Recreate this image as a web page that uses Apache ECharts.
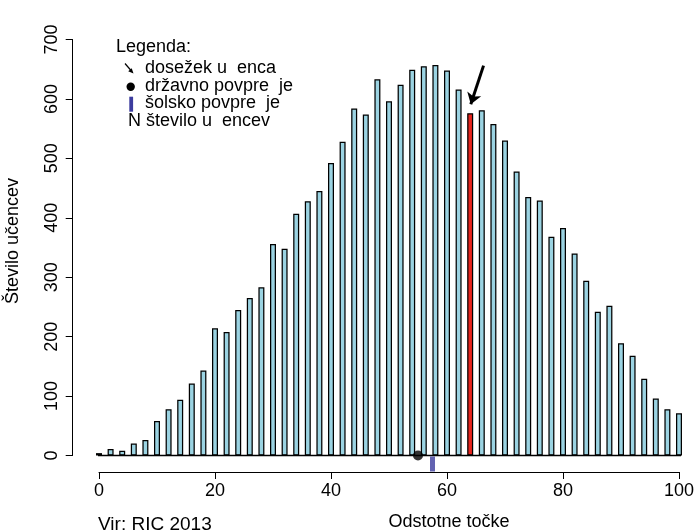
<!DOCTYPE html>
<html>
<head>
<meta charset="utf-8">
<script src="https://cdn.jsdelivr.net/npm/echarts@6/dist/echarts.min.js"></script>
<style>html,body{margin:0;padding:0;background:#fff}#c{width:700px;height:532px}</style>
</head>
<body>
<div id="c"></div>
<script>
// Data
const scores = [0,2,4,6,8,10,12,14,16,18,20,22,24,26,28,30,32,34,36,38,40,42,44,46,48,50,52,54,56,58,60,62,64,66,68,70,72,74,76,78,80,82,84,86,88,90,92,94,96,98,100];
const counts = [4,11,8,20,26,58,78,94,121,143,214,208,245,265,283,356,348,407,428,445,492,528,584,574,633,596,624,649,655,657,648,616,576,581,558,530,478,435,429,368,383,340,294,242,252,189,168,129,96,78,71];
const pupilScore = 64;
const nationalMean = 55;
const schoolMean = 57.5;
const arrowFrom = [66.3, 656];
const arrowTo = [64.1, 591];
const baselineRange = [-0.55, 100.55];
const xTicks = [0,20,40,60,80,100];
const yTicks = [0,100,200,300,400,500,600,700];

const FONT = "'Liberation Sans', Arial, sans-serif";
const FS = 18;
const chart = echarts.init(document.getElementById('c'), null, {renderer: 'canvas'});

const barData = scores.map((s, i) => ({
  value: [s, counts[i]],
  itemStyle: { color: s === pupilScore ? '#e8251e' : '#9bd3e2' }
}));

function txt(text, x, y, opts) {
  return Object.assign({ type: 'text', x: x, y: y,
    style: { text: text, fontSize: FS, fontFamily: FONT, fill: '#000', align: 'left', verticalAlign: 'middle' } }, opts || {});
}

chart.setOption({
  animation: false,
  backgroundColor: '#ffffff',
  grid: { left: 99, width: 580, top: 39.5, height: 416 },
  xAxis: {
    type: 'value', min: xTicks[0], max: xTicks[xTicks.length - 1], interval: 20,
    offset: 16.5,
    axisLine: { show: true, onZero: false, lineStyle: { color: '#000', width: 1 } },
    axisTick: { show: true, length: 7, lineStyle: { color: '#000', width: 1 } },
    axisLabel: { color: '#000', fontSize: FS, fontFamily: FONT, margin: 10 },
    splitLine: { show: false }
  },
  yAxis: {
    type: 'value', min: yTicks[0], max: yTicks[yTicks.length - 1], interval: 100,
    offset: 26.3,
    axisLine: { show: true, onZero: false, lineStyle: { color: '#000', width: 1 } },
    axisTick: { show: true, length: 7, lineStyle: { color: '#000', width: 1 } },
    axisLabel: { color: '#000', fontSize: FS, fontFamily: FONT, rotate: 90, margin: 12 },
    splitLine: { show: false }
  },
  series: [
    {
      type: 'bar', data: barData, barWidth: 6, clip: false,
      itemStyle: { borderColor: '#000', borderWidth: 1.25 },
      z: 2
    },
    {
      type: 'line', data: [[baselineRange[0], 0], [baselineRange[1], 0]], clip: false,
      symbol: 'none', lineStyle: { color: '#000', width: 1.6 }, z: 3, silent: true
    },
    {
      type: 'scatter', data: [[schoolMean, 0]], symbol: 'rect', symbolSize: [5, 15], symbolOffset: [0, 8.5], clip: false,
      itemStyle: { color: '#3c3c9e' }, z: 4
    },
    {
      type: 'scatter', data: [[nationalMean, 0]], symbolSize: 10, clip: false,
      itemStyle: { color: '#000' }, z: 5
    },
    {
      type: 'line', data: [], z: 6,
      markLine: {
        silent: true, symbol: ['none', 'arrow'], symbolSize: 11, label: { show: false },
        data: [[{ coord: arrowFrom, lineStyle: { color: '#000', width: 3, type: 'solid' } }, { coord: arrowTo }]]
      }
    }
  ],
  graphic: [
    txt('Število učencev', 13, 241, { rotation: Math.PI / 2, style: { text: 'Število učencev', fontSize: FS, fontFamily: FONT, fill: '#000', align: 'center', verticalAlign: 'middle' } }),
    txt('Odstotne točke', 449, 522, { style: { text: 'Odstotne točke', fontSize: FS, fontFamily: FONT, fill: '#000', align: 'center', verticalAlign: 'middle' } }),
    txt('Vir: RIC 2013', 98, 525, { style: { text: 'Vir: RIC 2013', fontSize: 19, fontFamily: FONT, fill: '#000', align: 'left', verticalAlign: 'middle' } }),
    txt('Legenda:', 116, 47),
    txt('dosežek u  enca', 145, 68.5),
    txt('državno povpre  je', 145, 86),
    txt('šolsko povpre  je', 145, 103.5),
    txt('N število u  encev', 128, 121),
    { type: 'line', shape: { x1: 125, y1: 63.5, x2: 131, y2: 70.5 }, style: { stroke: '#000', lineWidth: 1.2 } },
    { type: 'polygon', shape: { points: [[133.5, 73.5], [128.2, 71.2], [131.7, 68.2]] }, style: { fill: '#000' } },
    { type: 'circle', shape: { cx: 130.7, cy: 86.7, r: 4.2 }, style: { fill: '#000' } },
    { type: 'rect', shape: { x: 129.3, y: 96.7, width: 3.8, height: 15 }, style: { fill: '#3c3c9e' } }
  ]
});
</script>
</body>
</html>
